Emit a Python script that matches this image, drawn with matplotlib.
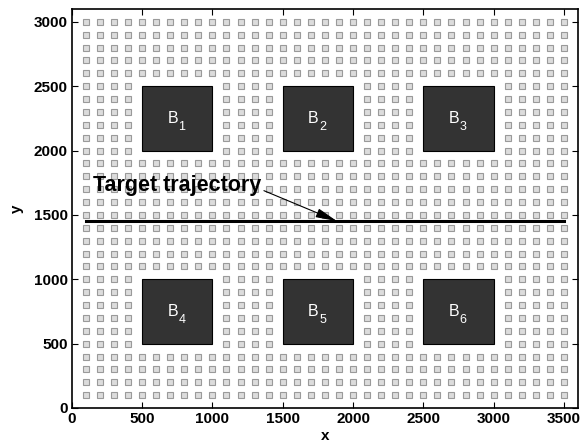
import numpy as np
import matplotlib
matplotlib.use("Agg")
import matplotlib.pyplot as plt
from matplotlib.patches import Rectangle

plt.rcParams['font.family'] = ['Liberation Sans', 'DejaVu Sans']

# Sensor lattice
grid_x = np.arange(100, 3501, 100)
grid_y = np.arange(100, 3001, 100)

# Buildings: lower-left corners and size
block_x0 = [500, 1500, 2500, 500, 1500, 2500]
block_y0 = [2000, 2000, 2000, 500, 500, 500]
block_w = 500
block_h = 500
block_names = ['B', 'B', 'B', 'B', 'B', 'B']
block_index = ['1', '2', '3', '4', '5', '6']

# Target trajectory
traj_x = [100, 3500]
traj_y = [1450, 1450]

xticks = [0, 500, 1000, 1500, 2000, 2500, 3000, 3500]
yticks = [0, 500, 1000, 1500, 2000, 2500, 3000]

fig = plt.figure(figsize=(5.87, 4.48), dpi=100)
ax = fig.add_axes([0.1223, 0.0893, 0.8624, 0.8907])

gx, gy = np.meshgrid(grid_x, grid_y)
gx = gx.ravel()
gy = gy.ravel()
keep = np.ones(gx.shape, dtype=bool)
for x0, y0 in zip(block_x0, block_y0):
    inside = (gx >= x0) & (gx <= x0 + block_w) & (gy >= y0) & (gy <= y0 + block_h)
    keep &= ~inside
ax.plot(gx[keep], gy[keep], linestyle='none', marker='s', markersize=4.7,
        markerfacecolor='#dcdcdc', markeredgecolor='#9a9a9a', markeredgewidth=0.8,
        zorder=1)

for x0, y0, name, idx in zip(block_x0, block_y0, block_names, block_index):
    ax.add_patch(Rectangle((x0, y0), block_w, block_h, facecolor='#333333',
                           edgecolor='black', linewidth=0.8, zorder=2))
    cx, cy = x0 + block_w / 2, y0 + block_h / 2
    ax.annotate(name, xy=(cx, cy), xytext=(-3.3, 0), textcoords='offset points',
                color='white', fontsize=11.5, ha='center', va='center', zorder=3)
    ax.annotate(idx, xy=(cx, cy), xytext=(3.4, -6.5), textcoords='offset points',
                color='white', fontsize=9, ha='center', va='center', zorder=3)

ax.plot(traj_x, traj_y, color='black', linewidth=2.2, zorder=3)

ax.annotate('Target trajectory', xy=(1885, 1452), xytext=(150, 1730),
            fontsize=15.5, fontweight='bold', ha='left', va='center',
            arrowprops=dict(arrowstyle='-|>,head_length=0.65,head_width=0.14',
                            color='black', lw=0.8, mutation_scale=20,
                            shrinkA=0, shrinkB=0, relpos=(1.0, 0.3)),
            zorder=4)

ax.set_xlim(0, 3600)
ax.set_ylim(0, 3100)
ax.set_xticks(xticks)
ax.set_yticks(yticks)
ax.set_xticklabels([str(t) for t in xticks], fontsize=11, fontweight='bold')
ax.set_yticklabels([str(t) for t in yticks], fontsize=11, fontweight='bold')
ax.tick_params(direction='in', top=True, right=True, length=4, width=0.8, pad=3)
for s in ax.spines.values():
    s.set_linewidth(1.2)
ax.set_xlabel('x', fontsize=11, fontweight='bold', labelpad=2)
ax.set_ylabel('y', fontsize=11, fontweight='bold', labelpad=7)

fig.savefig('out.png', dpi=100)
